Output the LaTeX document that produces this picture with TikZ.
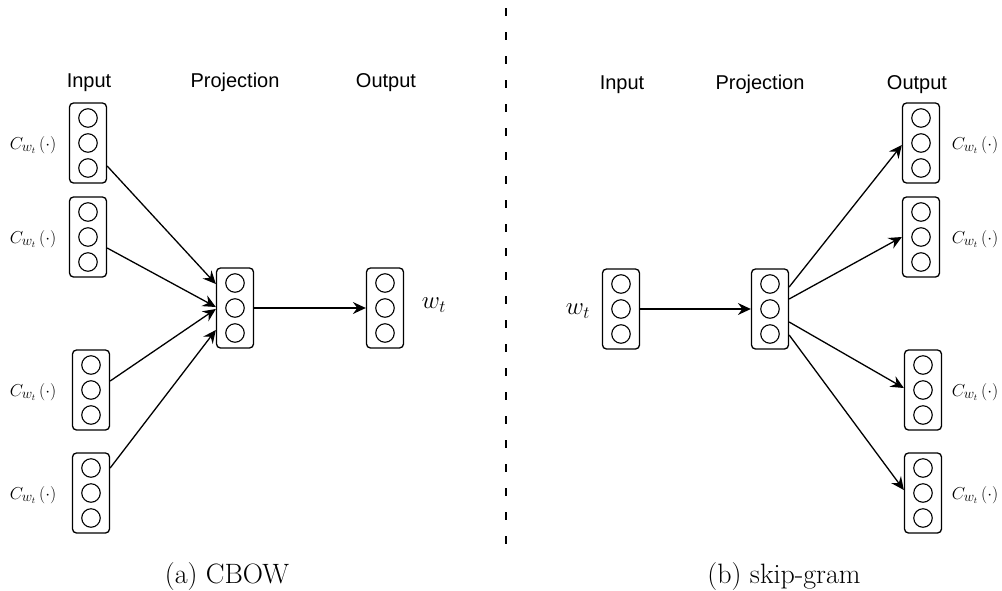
\documentclass[tikz,border=0pt]{standalone}
\usepackage{fontspec}
\newfontfamily\headfont{Liberation Sans}
\usetikzlibrary{arrows.meta,calc}

% a vector of three units inside a rounded box, named #1, #1-1, #1-2, #1-3
\newcommand\vecbox[3]{%
  \node[vec] (#1) at (#2,#3) {};
  \node[unit] (#1-1) at (#2,#3-25) {};
  \node[unit] (#1-2) at (#2,#3) {};
  \node[unit] (#1-3) at (#2,#3+25) {};
}

\begin{document}
\begin{tikzpicture}[x=1pt,y=-1pt,
  vec/.style={draw,rounded corners=4pt,line width=1.3pt,minimum width=37pt,minimum height=80pt,inner sep=0pt},
  unit/.style={draw,circle,line width=1.1pt,minimum size=18.5pt,inner sep=0pt},
  head/.style={font=\headfont\fontsize{20}{24}\selectfont,anchor=base},
  ctx/.style={font=\fontsize{19}{23}\selectfont},
  word/.style={font=\fontsize{26}{30}\selectfont},
  caption/.style={font=\fontsize{28}{34}\selectfont,anchor=base},
  link/.style={-{Stealth[length=13pt,width=12pt,inset=4.5pt]},line width=1.3pt},
  sep/.style={line width=2pt,dash pattern=on 8pt off 16pt},
]
\useasboundingbox (0,0) rectangle (1002,590);

% ---------- (a) CBOW ----------
\node[head] (hinA) at (89,87) {Input};
\node[head] (hprA) at (235,87) {Projection};
\node[head] (houA) at (386,87) {Output};

\vecbox{a1}{88}{143}
\vecbox{a2}{88}{237}
\vecbox{a3}{91}{390}
\vecbox{a4}{91}{493}
\vecbox{ap}{235}{308}
\vecbox{ao}{385}{308}

\node[ctx] (ca1) at (33,145) {$C_{w_t}\left(\cdot\right)$};
\node[ctx] (ca2) at (33,239) {$C_{w_t}\left(\cdot\right)$};
\node[ctx] (ca3) at (33,392) {$C_{w_t}\left(\cdot\right)$};
\node[ctx] (ca4) at (33,495) {$C_{w_t}\left(\cdot\right)$};
\node[word] (wa) at (434,305) {$w_t$};

\draw[link] ($(a1.east)+(0,23)$) -- ($(ap.west)+(0,-24)$);
\draw[link] ($(a2.east)+(0,11)$) -- ($(ap.west)+(0,-1)$);
\draw[link] ($(a3.east)+(0,-9)$) -- ($(ap.west)+(0,1)$);
\draw[link] ($(a4.east)+(0,-25)$) -- ($(ap.west)+(0,22)$);
\draw[link] (ap.east) -- (ao.west);

\node[caption] (capA) at (227,583) {(a) CBOW};

% ---------- separator ----------
\coordinate (sTop) at (506,8);
\coordinate (sBot) at (506,548);
\draw[sep] (sTop) -- (sBot);

% ---------- (b) skip-gram ----------
\node[head] (hinB) at (622,89) {Input};
\node[head] (hprB) at (760,89) {Projection};
\node[head] (houB) at (917,89) {Output};

\vecbox{bi}{621}{309}
\vecbox{bp}{770}{309}
\vecbox{b1}{921}{143}
\vecbox{b2}{921}{237}
\vecbox{b3}{923}{390}
\vecbox{b4}{923}{493}

\node[word] (wb) at (578,311) {$w_t$};
\node[ctx] (cb1) at (975,145) {$C_{w_t}\left(\cdot\right)$};
\node[ctx] (cb2) at (975,239) {$C_{w_t}\left(\cdot\right)$};
\node[ctx] (cb3) at (975,392) {$C_{w_t}\left(\cdot\right)$};
\node[ctx] (cb4) at (975,495) {$C_{w_t}\left(\cdot\right)$};

\draw[link] (bi.east) -- (bp.west);
\draw[link] ($(bp.east)+(0,-22)$) -- ($(b1.west)+(0,2)$);
\draw[link] ($(bp.east)+(0,-10)$) -- (b2.west);
\draw[link] ($(bp.east)+(0,13)$) -- ($(b3.west)+(0,-2)$);
\draw[link] ($(bp.east)+(0,26)$) -- ($(b4.west)+(0,-3)$);

\node[caption] (capB) at (784,583) {(b) skip-gram};
\end{tikzpicture}
\end{document}
